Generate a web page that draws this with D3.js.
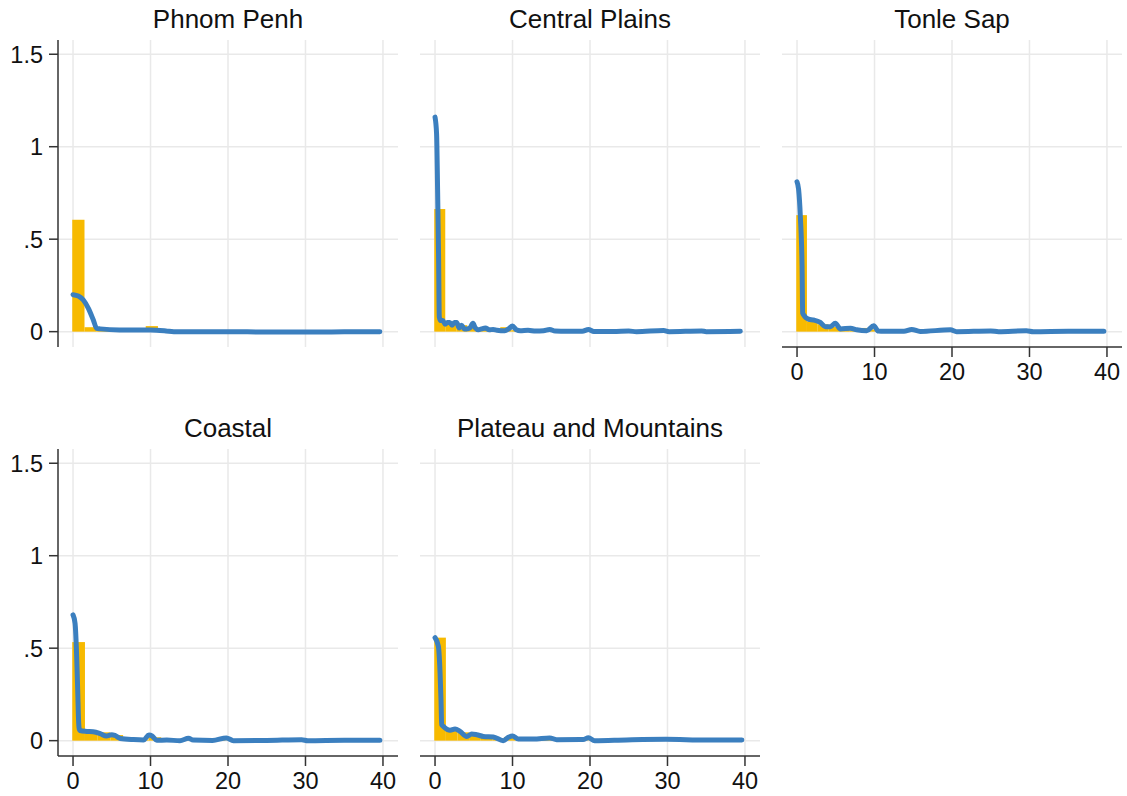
<!DOCTYPE html>
<html>
<head>
<meta charset="utf-8">
<script src="https://cdn.jsdelivr.net/npm/d3@7"></script>
<style>
  body { margin: 0; background: #fff; }
  text { font-family: "Liberation Sans", Arial, Helvetica, sans-serif; fill: #111; }
</style>
</head>
<body>
<script>
var regions = ["Phnom Penh", "Central Plains", "Tonle Sap", "Coastal", "Plateau and Mountains"];

// histogram bins: start, width and density heights
var binStart = [-0.1, -0.1, -0.1, -0.1, -0.1];
var binWidth = [1.58, 1.42, 1.38, 1.64, 1.5];
var barsPhnomPenh = [0.605, 0.024, 0.01, 0.006, 0.004, 0.003, 0.03, 0.002, 0.001, 0.001];
var barsCentralPlains = [0.663, 0.045, 0.035, 0.025, 0.012, 0.01, 0.024, 0.008, 0.003, 0.002, 0.004, 0.002, 0.001, 0.003];
var barsTonleSap = [0.63, 0.055, 0.04, 0.025, 0.012, 0.008, 0.02, 0.012, 0.003, 0.003, 0.004, 0.002, 0.001, 0.003];
var barsCoastal = [0.533, 0.05, 0.045, 0.03, 0.01, 0.005, 0.018, 0.003, 0.002, 0.005, 0.002, 0.006, 0.001];
var barsPlateau = [0.557, 0.06, 0.045, 0.035, 0.02, 0.01, 0.02, 0.015, 0.005, 0.005, 0.003, 0.003, 0.006, 0.002];

// blue density curves [x, y]
var densPhnomPenh = [[0,0.2],[0.68,0.193],[1.33,0.171],[1.98,0.126],[2.62,0.063],[3.05,0.018],[3.5,0.015],[6,0.009],[10,0.009],[12,0.004],[13,0.0],[20,0.0],[25,-0.002],[30,-0.002],[35,-0.001],[39.6,0]];
var densCentralPlains = [[0,1.16],[0.2,1.07],[0.33,0.77],[0.46,0.4],[0.55,0.08],[0.7,0.06],[1.0,0.06],[1.3,0.04],[1.6,0.05],[1.9,0.05],[2.2,0.035],[2.5,0.05],[2.8,0.05],[3.1,0.02],[3.4,0.035],[3.8,0.015],[4.1,0.015],[4.5,0.02],[4.9,0.045],[5.2,0.02],[5.6,0.01],[6.0,0.015],[6.5,0.02],[7,0.01],[7.5,0.012],[8,0.008],[9,0.005],[9.5,0.015],[10,0.03],[10.5,0.01],[11,0.005],[12,0.007],[13,0.003],[14,0.005],[14.8,0.012],[15.5,0.003],[17,0.002],[19,0.002],[19.8,0.012],[20.5,0.001],[23,0.001],[25,0.003],[26,0],[29.5,0.006],[30.2,0],[34.4,0.004],[35,0.0],[39.4,0.002]];
var densTonleSap = [[0,0.81],[0.2,0.77],[0.43,0.62],[0.65,0.35],[0.73,0.1],[0.86,0.09],[1.5,0.067],[2.15,0.063],[3.0,0.05],[3.65,0.027],[4.3,0.027],[4.94,0.045],[5.6,0.015],[6.9,0.018],[7.7,0.01],[9.0,0.005],[9.9,0.032],[10.5,0.003],[13.8,0.002],[14.8,0.012],[15.9,0.001],[19.8,0.01],[20.6,0],[25,0.004],[26,0],[29.6,0.005],[30.5,0],[35,0.002],[39.6,0.002]];
var densCoastal = [[0,0.68],[0.26,0.635],[0.47,0.455],[0.6,0.275],[0.73,0.095],[0.82,0.06],[0.9,0.055],[1.76,0.05],[2.6,0.048],[3.5,0.038],[4.3,0.025],[5.0,0.032],[5.4,0.028],[6.1,0.012],[7.8,0.006],[9.1,0.004],[9.8,0.03],[10.2,0.025],[10.8,0.002],[12.1,0.003],[13.8,0.0],[14.9,0.013],[15.5,0.003],[18,0.001],[19.8,0.015],[20.7,0.0],[25,0.001],[29.5,0.005],[30.3,0.0],[35,0.002],[39.6,0.002]];
var densPlateau = [[0,0.557],[0.43,0.51],[0.65,0.365],[0.77,0.22],[0.86,0.086],[1.07,0.077],[1.94,0.056],[2.58,0.063],[3.23,0.05],[4.09,0.023],[4.73,0.036],[5.38,0.032],[6.24,0.023],[7.53,0.02],[8.8,0.0],[9.46,0.018],[10.0,0.025],[10.75,0.009],[12.7,0.009],[14.8,0.015],[15.7,0.005],[19.1,0.006],[19.8,0.016],[20.6,0.0],[24.7,0.004],[29.8,0.007],[35,0.003],[39.6,0.004]];

var xTicks = [0, 10, 20, 30, 40];
var yTicks = [0, 0.5, 1, 1.5];
var yTickLabels = ["0", ".5", "1", "1.5"];

var bars = [barsPhnomPenh, barsCentralPlains, barsTonleSap, barsCoastal, barsPlateau];
var dens = [densPhnomPenh, densCentralPlains, densTonleSap, densCoastal, densPlateau];

var barColor = "#F7BA00";
var lineColor = "#3B7FBF";
var gridColor = "#E9E9E9";
var axisColor = "#333";

var colLeft = [58, 420, 782];
var rowTop = [40, 449];
var pw = 340, ph = 307;

var svg = d3.select("body").append("svg")
  .attr("width", 1127)
  .attr("height", 796);

var x = d3.scaleLinear().domain([-1.94, 41.94]).range([0, pw]);
var y = d3.scaleLinear().domain([-0.083, 1.577]).range([ph, 0]);

var line = d3.line()
  .x(d => x(d[0]))
  .y(d => y(d[1]))
  .curve(d3.curveMonotoneX);

regions.forEach(function (name, i) {
  var col = i % 3, row = Math.floor(i / 3);
  var g = svg.append("g").attr("transform", "translate(" + colLeft[col] + "," + rowTop[row] + ")");

  // grid
  g.selectAll(".hg").data(yTicks).enter().append("line")
    .attr("x1", 0).attr("x2", pw)
    .attr("y1", d => y(d)).attr("y2", d => y(d))
    .attr("stroke", gridColor).attr("stroke-width", 1.5);
  g.selectAll(".vg").data(xTicks).enter().append("line")
    .attr("x1", d => x(d)).attr("x2", d => x(d))
    .attr("y1", 0).attr("y2", ph)
    .attr("stroke", gridColor).attr("stroke-width", 1.5);

  // histogram
  var b = bars[i].map((h, k) => ({ x0: binStart[i] + k * binWidth[i], x1: binStart[i] + (k + 1) * binWidth[i], h: h }));
  g.selectAll(".bar").data(b).enter().append("rect")
    .attr("x", d => x(d.x0))
    .attr("width", d => x(d.x1) - x(d.x0))
    .attr("y", d => y(d.h))
    .attr("height", d => y(0) - y(d.h))
    .attr("fill", barColor);

  // density
  g.append("path")
    .datum(dens[i])
    .attr("d", line)
    .attr("fill", "none")
    .attr("stroke", lineColor)
    .attr("stroke-width", 5)
    .attr("stroke-linecap", "round")
    .attr("stroke-linejoin", "round");

  // title
  g.append("text")
    .text(name)
    .attr("x", pw / 2)
    .attr("y", -12)
    .attr("font-size", 26)
    .attr("text-anchor", "middle");

  if (col == 0) {
    g.append("line")
      .attr("x1", 0).attr("x2", 0).attr("y1", 0).attr("y2", ph)
      .attr("stroke", axisColor).attr("stroke-width", 1.5);
    g.selectAll(".yt").data(yTicks).enter().append("line")
      .attr("x1", -9).attr("x2", 0)
      .attr("y1", d => y(d)).attr("y2", d => y(d))
      .attr("stroke", axisColor).attr("stroke-width", 1.5);
    g.selectAll(".yl").data(yTicks).enter().append("text")
      .text((d, k) => yTickLabels[k])
      .attr("x", -15)
      .attr("y", d => y(d))
      .attr("dy", "0.36em")
      .attr("font-size", 23.5)
      .attr("text-anchor", "end");
  }

  if (i >= 2) {
    g.append("line")
      .attr("x1", 0).attr("x2", pw).attr("y1", ph).attr("y2", ph)
      .attr("stroke", axisColor).attr("stroke-width", 1.5);
    g.selectAll(".xt").data(xTicks).enter().append("line")
      .attr("x1", d => x(d)).attr("x2", d => x(d))
      .attr("y1", ph).attr("y2", ph + 10)
      .attr("stroke", axisColor).attr("stroke-width", 1.5);
    g.selectAll(".xl").data(xTicks).enter().append("text")
      .text(d => d)
      .attr("x", d => x(d))
      .attr("y", ph + 33)
      .attr("font-size", 23.5)
      .attr("text-anchor", "middle");
  }
});
</script>
</body>
</html>
